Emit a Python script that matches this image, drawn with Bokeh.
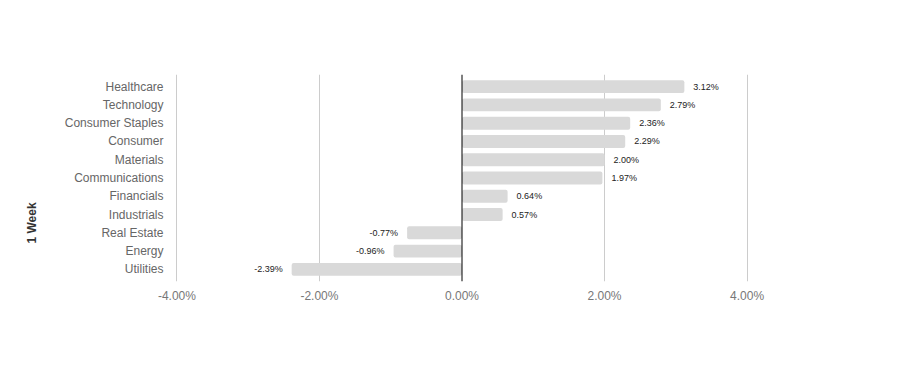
import math
from bokeh.plotting import figure
from bokeh.models import ColumnDataSource, Span, Title, FixedTicker, LabelSet, Range1d
from bokeh.core.properties import value
from bokeh.embed import file_html
from bokeh.resources import INLINE

sectors = ["Healthcare", "Technology", "Consumer Staples", "Consumer", "Materials",
           "Communications", "Financials", "Industrials", "Real Estate", "Energy", "Utilities"]
values = [3.12, 2.79, 2.36, 2.29, 2.00, 1.97, 0.64, 0.57, -0.77, -0.96, -2.39]
x_ticks = [-4, -2, 0, 2, 4]
axis_title = "1 Week"

n = len(sectors)
ypos = [n - 1 - i for i in range(n)]
pos_labels = [f"{v:.2f}%" if v >= 0 else "" for v in values]
neg_labels = [f"{v:.2f}%" if v < 0 else "" for v in values]

src = ColumnDataSource(dict(y=ypos, v=values, pl=pos_labels, nl=neg_labels))

p = figure(width=924, height=391, output_backend="svg", toolbar_location=None,
           x_range=Range1d(-4.02, 4.02), y_range=Range1d(-0.67, n - 1 + 0.67),
           min_border_left=175, min_border_right=176, min_border_top=74, min_border_bottom=110)
p.outline_line_color = None
p.background_fill_color = "white"

p.hbar(y="y", left=0, right="v", height=0.7, source=src,
       fill_color="#d9d9d9", line_color=None, border_radius=2)

p.add_layout(Span(location=0, dimension="height", line_color="#000000", line_width=1))

p.add_layout(LabelSet(x="v", y="y", text="pl", source=src, x_offset=9,
                      text_font=value("Liberation Sans"), text_font_size="9px", text_color="#222222",
                      text_baseline="middle", text_align="left"))
p.add_layout(LabelSet(x="v", y="y", text="nl", source=src, x_offset=-9,
                      text_font=value("Liberation Sans"), text_font_size="9px", text_color="#222222",
                      text_baseline="middle", text_align="right"))

# x axis
p.xaxis.ticker = FixedTicker(ticks=x_ticks)
p.xaxis.major_label_overrides = {t: f"{t:.2f}%" for t in x_ticks}
p.xaxis.axis_line_color = None
p.xaxis.major_tick_line_color = None
p.xaxis.minor_tick_line_color = None
p.xaxis.major_label_standoff = 1
p.xaxis.major_label_text_font = "Liberation Sans"
p.xaxis.major_label_text_font_size = "12px"
p.xaxis.major_label_text_color = "#777777"

p.xgrid.ticker = FixedTicker(ticks=[t for t in x_ticks if t != 0])
p.xgrid.grid_line_color = "#cccccc"
p.ygrid.grid_line_color = None

# y axis
p.yaxis.ticker = FixedTicker(ticks=ypos)
p.yaxis.major_label_overrides = {y: s for y, s in zip(ypos, sectors)}
p.yaxis.axis_line_color = None
p.yaxis.major_tick_line_color = None
p.yaxis.minor_tick_line_color = None
p.yaxis.major_label_standoff = 6
p.yaxis.major_label_text_font = "Liberation Sans"
p.yaxis.major_label_text_font_size = "12px"
p.yaxis.major_label_text_color = "#666666"

p.add_layout(Title(text=axis_title, align="left", offset=38, standoff=45,
                   text_font="Liberation Sans", text_font_size="12px", text_font_style="bold",
                   text_color="#333333"), "left")

open("out.html", "w").write(file_html(p, INLINE))
